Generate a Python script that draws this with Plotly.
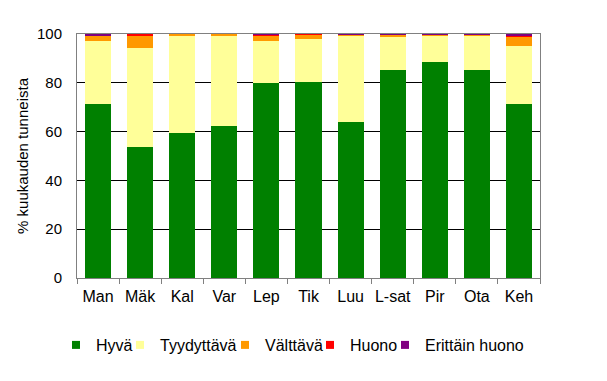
import plotly.graph_objects as go

months = ["Man", "Mäk", "Kal", "Var", "Lep", "Tik", "Luu", "L-sat", "Pir", "Ota", "Keh"]
hyva = [71.5, 53.5, 59.5, 62.5, 80.0, 80.5, 64.0, 85.2, 88.5, 85.2, 71.5]
tyydyttava = [25.8, 40.9, 39.7, 36.7, 17.3, 17.6, 35.2, 13.6, 10.7, 14.0, 23.6]
valttava = [2.2, 4.9, 0.8, 0.8, 1.9, 1.5, 0.6, 0.8, 0.4, 0.4, 3.7]
huono = [0.0, 0.7, 0.0, 0.0, 0.4, 0.4, 0.0, 0.0, 0.0, 0.0, 0.7]
erittain_huono = [0.5, 0.0, 0.0, 0.0, 0.4, 0.0, 0.2, 0.4, 0.4, 0.4, 0.5]

series = [
    ("Hyvä", hyva, "#008000"),
    ("Tyydyttävä", tyydyttava, "#FFFF99"),
    ("Välttävä", valttava, "#FF9900"),
    ("Huono", huono, "#FF0000"),
    ("Erittäin huono", erittain_huono, "#800080"),
]
legend_x = [-0.0454, 0.0929, 0.3197, 0.5032, 0.6652]

fig = go.Figure()
legend_layouts = {}
for i, ((name, vals, color), lx) in enumerate(zip(series, legend_x)):
    key = "legend" if i == 0 else f"legend{i + 1}"
    fig.add_trace(go.Bar(x=months, y=vals, name=name, showlegend=False,
                         marker=dict(color=color, line=dict(width=0))))
    # legend entry with a small square swatch
    fig.add_trace(go.Scatter(x=[None], y=[None], mode="markers", name=name, legend=key,
                             showlegend=True, hoverinfo="skip",
                             marker=dict(symbol="square", size=8, color=color, line=dict(width=0))))
    legend_layouts[key] = dict(orientation="h", x=lx, xanchor="left", y=-0.2746, yanchor="middle",
                               font=dict(size=16), itemwidth=30, bgcolor="rgba(0,0,0,0)")

fig.update_layout(
    barmode="stack",
    bargap=0.38,
    width=607, height=381,
    margin=dict(l=77, r=67, t=34, b=103, autoexpand=False),
    paper_bgcolor="white", plot_bgcolor="white",
    font=dict(family="Liberation Sans, Arial, sans-serif", size=16, color="black"),
    showlegend=True,
    xaxis=dict(showline=True, linecolor="#808080", linewidth=1, mirror=True,
               ticks="outside", tickson="boundaries", ticklen=5, tickcolor="#808080",
               tickangle=0, ticklabelstandoff=4, showgrid=False, automargin=False),
    yaxis=dict(range=[0, 100], dtick=20, showline=True, linecolor="#808080", linewidth=1, mirror=True,
               ticks="", tickfont=dict(size=15), ticklabelstandoff=11,
               showgrid=True, gridcolor="black", gridwidth=1, zeroline=False, automargin=False,
               title=dict(text="% kuukauden tunneista", standoff=4, font=dict(size=15))),
    **legend_layouts,
)

fig.write_html("out.html", config={"displayModeBar": False},
               post_script="document.body.style.margin='0px';")
